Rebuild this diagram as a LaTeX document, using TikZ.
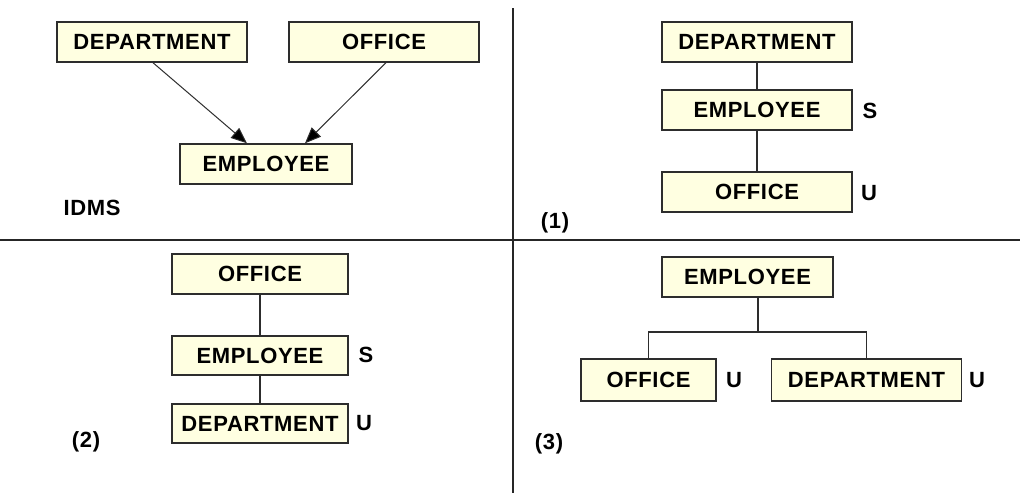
\documentclass[tikz,border=0pt]{standalone}
\usepackage{fontspec}
\setmainfont[LetterSpace=3]{Liberation Sans}
\usetikzlibrary{arrows.meta,calc}
\definecolor{boxfill}{RGB}{255,255,225}
\definecolor{edge}{RGB}{45,45,45}
\begin{document}
\begin{tikzpicture}[x=1pt,y=-1pt,
  every node/.style={font=\fontsize{22}{26}\selectfont\bfseries, inner sep=0pt},
  rec/.style={draw=edge, line width=1.4pt, fill=boxfill, minimum height=40pt, text depth=-1.5pt},
  tag/.style={text=black},
  link/.style={draw=edge, line width=1.4pt},
  arr/.style={draw=edge, line width=1pt, -{Triangle[length=16pt,width=13pt,fill=black]}},
  sep/.style={draw=black!85, line width=1.4pt}]
\useasboundingbox (0,0) rectangle (1020,493);

% separators between the four panels
\draw[sep] (0,240) -- (1020,240);
\draw[sep] (513,8) -- (513,493);

% panel: IDMS network
\node[rec, minimum width=190pt] (d1) at (152,42) {DEPARTMENT};
\node[rec, minimum width=190pt] (o1) at (384,42) {OFFICE};
\node[rec, minimum width=172pt] (e1) at (266,164) {EMPLOYEE};
\node[tag] (idms) at (92,208) {IDMS};
\draw[arr] ([xshift=1pt]d1.south) -- ([xshift=-19pt]e1.north);
\draw[arr] ([xshift=2pt]o1.south) -- ([xshift=39pt]e1.north);

% panel (1)
\node[rec, minimum width=190pt] (d2) at (757,42) {DEPARTMENT};
\node[rec, minimum width=190pt] (e2) at (757,110) {EMPLOYEE};
\node[rec, minimum width=190pt] (o2) at (757,192) {OFFICE};
\node[tag] (s2) at (870,111) {S};
\node[tag] (u2) at (869,193) {U};
\node[tag] (n1) at (555,223) {(1)};
\draw[link] (d2.south) -- (e2.north);
\draw[link] (e2.south) -- (o2.north);

% panel (2)
\node[rec, minimum width=176pt] (o3) at (260,274) {OFFICE};
\node[rec, minimum width=176pt, minimum height=39pt] (e3) at (260,355.5) {EMPLOYEE};
\node[rec, minimum width=176pt, minimum height=39pt] (d3) at (260,423.5) {DEPARTMENT};
\node[tag] (s3) at (366,355) {S};
\node[tag] (u3) at (364,423) {U};
\node[tag] (n2) at (86,442) {(2)};
\draw[link] (o3.south) -- (e3.north);
\draw[link] (e3.south) -- (d3.north);

% panel (3)
\node[rec, minimum width=171pt] (e4) at (747.5,277) {EMPLOYEE};
\node[rec, minimum width=135pt, minimum height=42pt] (o4) at (648.5,380) {OFFICE};
\node[rec, minimum width=190pt, minimum height=42pt] (d4) at (866.5,380) {DEPARTMENT};
\node[tag] (u4a) at (734,380) {U};
\node[tag] (u4b) at (977,380) {U};
\node[tag] (n3) at (549,444) {(3)};
\coordinate (j) at (758,332);
\draw[link] (j |- e4.south) -- (j);
\draw[link] (o4.north) |- (j) -| (d4.north);
\end{tikzpicture}
\end{document}
